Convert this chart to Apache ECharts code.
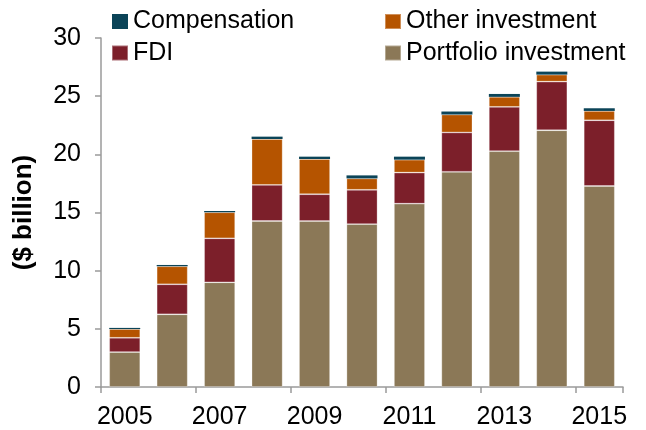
<!DOCTYPE html>
<html>
<head>
<meta charset="utf-8">
<script src="https://cdn.jsdelivr.net/npm/echarts@6/dist/echarts.min.js"></script>
<style>
  html, body { margin: 0; padding: 0; background: #fff; }
  #chart { width: 646px; height: 430px; }
</style>
</head>
<body>
<div id="chart"></div>
<script>
// values in $ billion
const years = ["2005", "2006", "2007", "2008", "2009", "2010", "2011", "2012", "2013", "2014", "2015"];
const portfolio = [3.0, 6.25, 9.0, 14.27, 14.27, 14.0, 15.76, 18.5, 20.27, 22.07, 17.28];
const fdi = [1.23, 2.58, 3.78, 3.1, 2.3, 2.95, 2.67, 3.38, 3.81, 4.18, 5.65];
const other = [0.75, 1.55, 2.24, 3.95, 3.03, 0.98, 1.11, 1.54, 0.86, 0.6, 0.8];
const compensation = [0.1, 0.11, 0.11, 0.2, 0.2, 0.26, 0.26, 0.26, 0.25, 0.26, 0.23];

const font = 'Arial, "Liberation Sans", sans-serif';
const axisGrey = "#9a9a9a";

const chart = echarts.init(document.getElementById("chart"));

const bar = (name, data, color, border) => ({
  name: name,
  type: "bar",
  stack: "total",
  barWidth: 31,
  data: data,
  itemStyle: {
    color: color,
    borderColor: "rgba(255,255,255,0.35)",
    borderWidth: border,
  },
});

const legendText = { fontSize: 25, color: "#000", fontFamily: font, lineHeight: 25 };
const legendBase = {
  orient: "vertical",
  top: 9,
  padding: 0,
  itemWidth: 16,
  itemHeight: 15,
  itemGap: 6.5,
  icon: "rect",
  textStyle: legendText,
};

chart.setOption({
  animation: false,
  textStyle: { fontFamily: font },
  legend: [
    Object.assign({}, legendBase, { left: 111, data: ["Compensation", "FDI"] }),
    Object.assign({}, legendBase, { left: 384, data: ["Other investment", "Portfolio investment"] }),
  ],
  grid: { left: 101, right: 23, top: 38, bottom: 43 },
  xAxis: {
    type: "category",
    data: years,
    axisLine: { lineStyle: { color: axisGrey, width: 1.5 } },
    axisTick: { show: true, length: 6, lineStyle: { color: axisGrey, width: 1.5 } },
    axisLabel: { interval: 1, fontSize: 25, color: "#000", margin: 18, fontFamily: font },
  },
  yAxis: {
    type: "value",
    min: 0,
    max: 30,
    interval: 5,
    name: "($ billion)",
    nameLocation: "middle",
    nameGap: 64,
    nameTextStyle: { fontSize: 26, fontWeight: "bold", color: "#000", fontFamily: font },
    axisLine: { show: true, lineStyle: { color: axisGrey, width: 1.5 } },
    axisTick: { show: true, length: 6, lineStyle: { color: axisGrey, width: 1.5 } },
    axisLabel: { fontSize: 25, color: "#000", margin: 20, fontFamily: font },
    splitLine: { show: false },
  },
  series: [
    bar("Portfolio investment", portfolio, "#8b7857", 0.8),
    bar("FDI", fdi, "#7c1f2a", 0.8),
    bar("Other investment", other, "#b55400", 0.8),
    bar("Compensation", compensation, "#0b4458", 0),
  ],
});
</script>
</body>
</html>
